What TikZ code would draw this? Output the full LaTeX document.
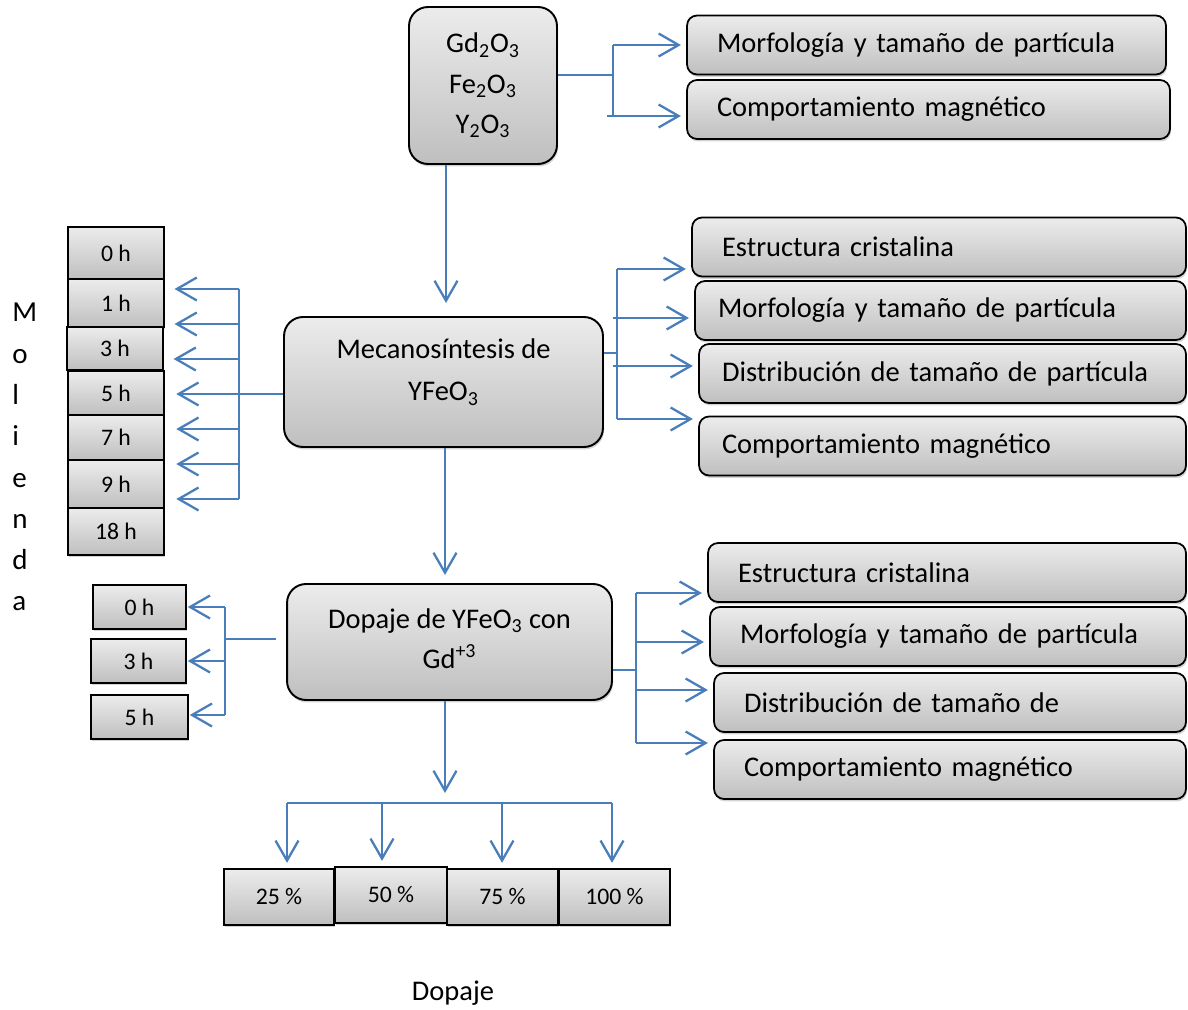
\documentclass[tikz,border=0pt]{standalone}
\usepackage{fontspec}
\setmainfont{Carlito}
\usetikzlibrary{arrows.meta,positioning,shadows}
\definecolor{linkblue}{HTML}{4A7EBB}
\definecolor{boxtop}{HTML}{ECECEC}
\definecolor{boxbottom}{HTML}{BFBFBF}

\begin{document}
\begin{tikzpicture}[
    x=0.02cm, y=-0.02cm,
    font=\fontsize{16.2}{23}\selectfont,
    process/.style={draw, line width=1.1pt, rounded corners=0.38cm, top color=boxtop, bottom color=boxbottom, drop shadow={shadow xshift=0.6pt, shadow yshift=-1.4pt, opacity=0.35}, align=center},
    result/.style={draw, line width=1pt, rounded corners=0.2cm, top color=boxtop, bottom color=boxbottom, drop shadow={shadow xshift=0.6pt, shadow yshift=-1.4pt, opacity=0.35}, text width=#1, align=left, inner xsep=0.6cm, minimum height=1.18cm},
    hourbox/.style={draw, line width=1pt, top color=boxtop, bottom color=boxbottom, drop shadow={shadow xshift=0.6pt, shadow yshift=-1.4pt, opacity=0.35}, font=\fontsize{13.5}{16}\selectfont},
    arrow/.style={-{Straight Barb[length=0.4cm,width=0.46cm]}, linkblue, line width=1.3pt, shorten >=3pt},
    link/.style={linkblue, line width=1pt}
]
\useasboundingbox (0,0) rectangle (1188,1010);

% Main process boxes
\node[process, minimum width=2.96cm, minimum height=3.14cm] (oxides) at (483,85.5) {Gd\textsubscript{2}O\textsubscript{3}\\Fe\textsubscript{2}O\textsubscript{3}\\Y\textsubscript{2}O\textsubscript{3}};
\node[process, minimum width=6.38cm, minimum height=2.6cm, text depth=14pt, font=\fontsize{16.2}{24}\selectfont] (mecano) at (443.5,382) {Mecanosíntesis de\\YFeO\textsubscript{3}};
\node[process, minimum width=6.5cm, minimum height=2.32cm, text depth=4pt] (dopaje) at (449.5,642) {Dopaje de YFeO\textsubscript{3} con\\Gd\textsuperscript{+3}};

% Characterization of the oxides
\node[result=8.38cm] (morfA) at (926.5,45) {Morfología y tamaño de partícula};
\node[result=8.46cm] (compA) at (928.5,109.5) {Comportamiento magnético};

% Characterization after milling
\node[result=8.68cm] (estB) at (939,247) {Estructura cristalina};
\node[result=8.9cm, inner xsep=0.46cm] (morfB) at (940.5,310.5) {Morfología y tamaño de partícula};
\node[result=8.82cm, inner xsep=0.46cm] (distB) at (942.5,373.5) {Distribución de tamaño de partícula};
\node[result=8.82cm, inner xsep=0.46cm] (compB) at (942.5,446) {Comportamiento magnético};

% Characterization after doping
\node[result=8.36cm] (estC) at (947,572.5) {Estructura cristalina};
\node[result=8.32cm] (morfC) at (948,636.5) {Morfología y tamaño de partícula};
\node[result=8.24cm] (distC) at (950,702.5) {Distribución de tamaño de};
\node[result=8.24cm] (compC) at (950,769.5) {Comportamiento magnético};

% Milling times
\node[hourbox, minimum width=1.92cm, minimum height=1.04cm] (h0) at (116,253) {0 h};
\node[hourbox, minimum width=1.92cm, minimum height=0.96cm] (h1) at (116,303) {1 h};
\node[hourbox, minimum width=1.92cm, minimum height=0.86cm] (h3) at (115,348.5) {3 h};
\node[hourbox, minimum width=1.92cm, minimum height=0.88cm] (h5) at (116,393) {5 h};
\node[hourbox, minimum width=1.92cm, minimum height=0.9cm] (h7) at (116,437.5) {7 h};
\node[hourbox, minimum width=1.92cm, minimum height=0.96cm] (h9) at (116,484) {9 h};
\node[hourbox, minimum width=1.92cm, minimum height=0.94cm] (h18) at (116,531.5) {18 h};

\node[align=left, anchor=north west, inner sep=0pt, font=\fontsize{16.5}{23.5}\selectfont] (molienda) at (12,303) {M\\o\\l\\i\\e\\n\\d\\a};

% Milling times for doping
\node[hourbox, minimum width=1.86cm, minimum height=0.88cm] (d0) at (139.5,607) {0 h};
\node[hourbox, minimum width=1.9cm, minimum height=0.88cm] (d3) at (138.5,661) {3 h};
\node[hourbox, minimum width=1.94cm, minimum height=0.88cm] (d5) at (139.5,717) {5 h};

% Doping levels
\node[hourbox, minimum width=2.2cm, minimum height=1.12cm] (p25) at (279,897) {25 \%};
\node[hourbox, minimum width=2.24cm, minimum height=1.12cm] (p50) at (391,895) {50 \%};
\node[hourbox, minimum width=2.22cm, minimum height=1.12cm] (p75) at (502.5,897) {75 \%};
\node[hourbox, minimum width=2.22cm, minimum height=1.12cm] (p100) at (614.5,897) {100 \%};

\node (dopajelbl) at (453,993) {Dopaje};

% Top bracket
\coordinate (jA) at (613,75);
\coordinate (jA1) at (613,45);
\coordinate (jA2) at (607,116);
\draw[link] (oxides.east |- jA) -- (jA);
\draw[link] (jA1) -- (jA1 |- jA2);
\draw[arrow] (jA1) -- (jA1 -| morfA.west);
\draw[arrow] (jA2) -- (jA2 -| compA.west);

% Down arrows
\coordinate (tipA) at (446,303);
\coordinate (tipB) at (445,575);
\coordinate (tipC) at (445,793);
\draw[arrow, shorten >=0pt] (tipA |- oxides.south) -- (tipA);
\draw[arrow, shorten >=0pt] (tipB |- mecano.south) -- (tipB);
\draw[arrow, shorten >=0pt] (tipC |- dopaje.south) -- (tipC);

% Mecanosintesis right bracket
\coordinate (jB) at (617,353);
\coordinate (jB1) at (617,269);
\coordinate (jB2) at (613,318);
\coordinate (jB3) at (613,366);
\coordinate (jB4) at (617,419);
\draw[link] (mecano.east |- jB) -- (jB);
\draw[link] (jB1) -- (jB4);
\draw[arrow] (jB1) -- (jB1 -| estB.west);
\draw[arrow] (jB2) -- (jB2 -| morfB.west);
\draw[arrow] (jB3) -- (jB3 -| distB.west);
\draw[arrow] (jB4) -- (jB4 -| compB.west);

% Mecanosintesis left bracket
\coordinate (jL) at (239,394);
\coordinate (jL1) at (239,289);
\coordinate (jL2) at (239,324);
\coordinate (jL3) at (239,359);
\coordinate (jL4) at (239,394);
\coordinate (jL5) at (239,429);
\coordinate (jL6) at (239,464);
\coordinate (jL7) at (239,499);
\draw[link] (mecano.west |- jL) -- (jL);
\draw[link] (jL1) -- (jL7);
\draw[arrow, shorten >=5.5pt] (jL1) -- (jL1 -| h0.east);
\draw[arrow, shorten >=5.5pt] (jL2) -- (jL2 -| h1.east);
\draw[arrow, shorten >=5.5pt] (jL3) -- (jL3 -| h3.east);
\draw[arrow, shorten >=6.5pt] (jL4) -- (jL4 -| h5.east);
\draw[arrow, shorten >=6.5pt] (jL5) -- (jL5 -| h7.east);
\draw[arrow, shorten >=6.5pt] (jL6) -- (jL6 -| h9.east);
\draw[arrow, shorten >=6.5pt] (jL7) -- (jL7 -| h18.east);

% Dopaje left bracket
\coordinate (jD) at (225,639);
\coordinate (jD1) at (225,607);
\coordinate (jD2) at (225,661);
\coordinate (jD3) at (225,715);
\draw[link, shorten <=5.5pt] (dopaje.west |- jD) -- (jD);
\draw[link] (jD1) -- (jD3);
\draw[arrow, shorten >=0.5pt] (jD1) -- (jD1 -| d0.east);
\draw[arrow, shorten >=0.5pt] (jD2) -- (jD2 -| d3.east);
\draw[arrow, shorten >=0.5pt] (jD3) -- (jD3 -| d5.east);

% Dopaje right bracket
\coordinate (jE) at (636,670);
\coordinate (jE1) at (636,593);
\coordinate (jE2) at (636,642);
\coordinate (jE3) at (636,690);
\coordinate (jE4) at (636,743);
\draw[link] (dopaje.east |- jE) -- (jE);
\draw[link] (jE1) -- (jE4);
\draw[arrow] (jE1) -- (jE1 -| estC.west);
\draw[arrow] (jE2) -- (jE2 -| morfC.west);
\draw[arrow] (jE3) -- (jE3 -| distC.west);
\draw[arrow] (jE4) -- (jE4 -| compC.west);

% Doping levels
\coordinate (bar1) at (287,803);
\coordinate (bar2) at (382,803);
\coordinate (bar3) at (502,803);
\coordinate (bar4) at (612,803);
\draw[link, line width=1.2pt] (bar1) -- (bar4);
\draw[arrow] (bar1) -- (bar1 |- p25.north);
\draw[arrow] (bar2) -- (bar2 |- p50.north);
\draw[arrow] (bar3) -- (bar3 |- p75.north);
\draw[arrow] (bar4) -- (bar4 |- p100.north);

\end{tikzpicture}
\end{document}
